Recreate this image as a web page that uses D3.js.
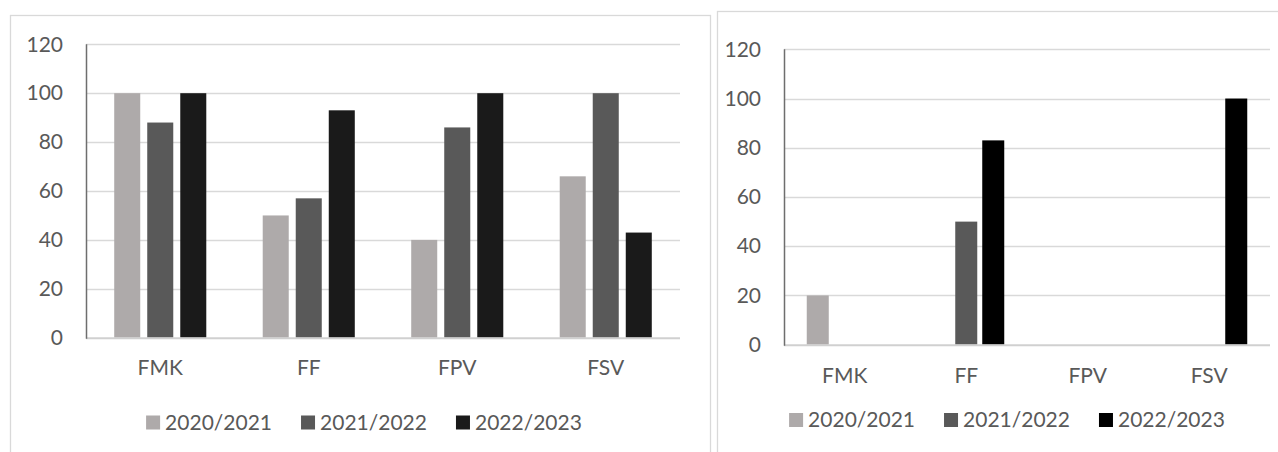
<!DOCTYPE html>
<html>
<head>
<meta charset="utf-8">
<script src="https://cdn.jsdelivr.net/npm/d3@7"></script>
<style>
  html, body { margin: 0; padding: 0; background: #ffffff; }
  svg { display: block; }
  text { font-family: Lato, "Open Sans", sans-serif; fill: #595959; }
</style>
</head>
<body>
<svg id="chart" width="1278" height="452"></svg>
<script>
// ---- data ----
const categories = ["FMK", "FF", "FPV", "FSV"];
const seriesNames = ["2020/2021", "2021/2022", "2022/2023"];
const yTicks = [0, 20, 40, 60, 80, 100, 120];

// left chart
const leftValues2020 = [100, 50, 40, 66];
const leftValues2021 = [88, 57, 86, 100];
const leftValues2022 = [100, 93, 100, 43];

// right chart
const rightValues2020 = [20, 0, 0, 0];
const rightValues2021 = [0, 50, 0, 0];
const rightValues2022 = [0, 83, 0, 100];

const leftColors = ["#aeaaaa", "#595959", "#1a1a1a"];
const rightColors = ["#aeaaaa", "#595959", "#000000"];

const svg = d3.select("#chart");

function drawChart(cfg) {
  const g = svg.append("g");
  // frame
  g.append("rect")
    .attr("x", cfg.frame[0] + 0.5).attr("y", cfg.frame[1] + 0.5)
    .attr("width", cfg.frame[2]).attr("height", cfg.frame[3])
    .attr("fill", "none").attr("stroke", "#d9d9d9").attr("stroke-width", 1.3);

  const y = d3.scaleLinear().domain([0, 120]).range([cfg.y0, cfg.y120]);
  const x0 = d3.scaleBand().domain(categories).range([cfg.xLeft, cfg.xRight])
    .paddingInner(cfg.pInner).paddingOuter(cfg.pInner / 2);
  const x1 = d3.scaleBand().domain(seriesNames).range([0, x0.bandwidth()])
    .paddingInner(cfg.barGap).paddingOuter(0);

  // gridlines
  g.append("g").selectAll("line").data(yTicks.filter(t => t > 0)).join("line")
    .attr("x1", cfg.xLeft).attr("x2", cfg.xRight)
    .attr("y1", d => Math.round(y(d)) + 0.5).attr("y2", d => Math.round(y(d)) + 0.5)
    .attr("stroke", "#d9d9d9").attr("stroke-width", 1.5);

  // y tick labels via axis
  const yAxis = d3.axisLeft(y).tickValues(yTicks).tickSize(0).tickPadding(0);
  const ya = g.append("g").attr("transform", `translate(${cfg.labelRight},0)`).call(yAxis);
  ya.select(".domain").remove();
  ya.selectAll("text").style("font-size", "21px").attr("fill", "#595959")
    .style("font-family", "Lato, 'Open Sans', sans-serif");

  // bars
  const rows = categories.map((c, i) => ({cat: c, vals: cfg.series.map(s => s[i])}));
  const groups = g.append("g").selectAll("g").data(rows).join("g")
    .attr("transform", d => `translate(${x0(d.cat)},0)`);
  groups.selectAll("rect").data(d => d.vals.map((v, j) => ({name: seriesNames[j], v, j})))
    .join("rect")
    .filter(d => d.v > 0)
    .attr("x", d => x1(d.name))
    .attr("width", x1.bandwidth())
    .attr("y", d => y(d.v))
    .attr("height", d => y(0) - y(d.v))
    .attr("fill", d => cfg.colors[d.j]);

  // baseline (x axis)
  g.append("line").attr("x1", cfg.xLeft).attr("x2", cfg.xRight)
    .attr("y1", y(0) + 0.5).attr("y2", y(0) + 0.5)
    .attr("stroke", "#d0d0d0").attr("stroke-width", 2);
  // y axis line
  g.append("line").attr("x1", cfg.xLeft + 0.5).attr("x2", cfg.xLeft + 0.5)
    .attr("y1", y(120)).attr("y2", y(0) + 1)
    .attr("stroke", "#6e6e6e").attr("stroke-width", 1.5);

  // category labels via axis
  const xAxis = d3.axisBottom(x0).tickSize(0).tickPadding(0);
  const xa = g.append("g").attr("transform", `translate(0,${cfg.catY})`).call(xAxis);
  xa.select(".domain").remove();
  xa.selectAll("text").style("font-size", "21px").attr("fill", "#595959")
    .attr("dy", "0.35em")
    .style("font-family", "Lato, 'Open Sans', sans-serif");

  // legend
  const lg = g.append("g");
  const items = lg.selectAll("g").data(seriesNames).join("g");
  items.append("rect").attr("width", 14).attr("height", 14).attr("y", -7)
    .attr("fill", (d, i) => cfg.colors[i]);
  items.append("text").attr("x", 19).attr("dy", "0.35em")
    .style("font-size", "21px").text(d => d);
  let widths = [];
  items.each(function() { widths.push(19 + d3.select(this).select("text").node().getComputedTextLength()); });
  const gap = 29;
  const total = d3.sum(widths) + gap * (widths.length - 1);
  let xs = cfg.legendCenter - total / 2;
  items.attr("transform", (d, i) => {
    const t = `translate(${xs},${cfg.legendY})`;
    xs += widths[i] + gap;
    return t;
  });
}

drawChart({
  frame: [10, 15, 700, 500],
  xLeft: 86, xRight: 680, y0: 337.7, y120: 44.3,
  pInner: 0.38, barGap: 0.212,
  labelRight: 63, catY: 368, legendY: 422.5, legendCenter: 364,
  series: [leftValues2020, leftValues2021, leftValues2022],
  colors: leftColors
});

drawChart({
  frame: [717, 11, 600, 500],
  xLeft: 784, xRight: 1270, y0: 344.7, y120: 49.3,
  pInner: 0.3745, barGap: 0.185,
  labelRight: 761, catY: 375.7, legendY: 420, legendCenter: 1007,
  series: [rightValues2020, rightValues2021, rightValues2022],
  colors: rightColors
});
</script>
</body>
</html>
